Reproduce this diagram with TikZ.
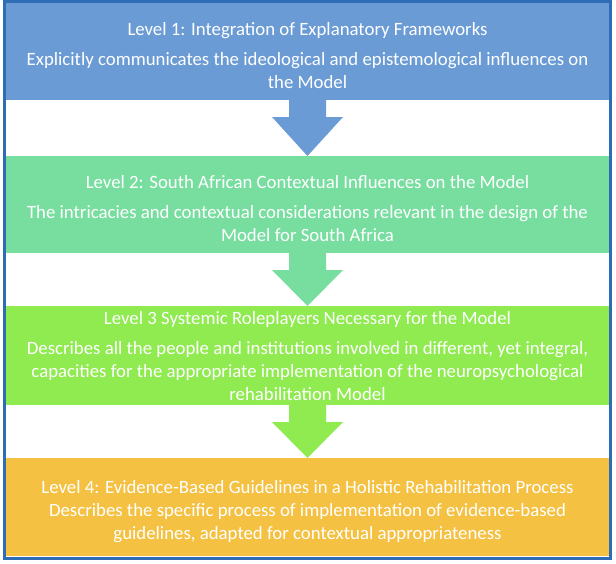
\documentclass[tikz,border=0pt]{standalone}
\usepackage{fontspec}
\setmainfont{Carlito}
\usepackage{tikz}
\usetikzlibrary{positioning, calc}
\definecolor{levelblue}{RGB}{106,155,213}
\definecolor{levelmint}{RGB}{119,222,160}
\definecolor{levellime}{RGB}{143,235,80}
\definecolor{levelgold}{RGB}{244,193,66}
\definecolor{frameblue}{RGB}{46,108,182}

% block arrow from one level box down to the next
\newcommand{\levelarrow}[3]{%
  \fill[#3] ($(#1.south)+(-18.5,0)$) -- ++(0,17) -- ++(-17,0) -- (#2.north)
    -- ($(#1.south)+(35.5,17)$) -- ++(-17,0) -- ($(#1.south)+(18.5,0)$) -- cycle;}

\begin{document}
\begin{tikzpicture}[
    x=1pt, y=-1pt,
    node distance=54pt,
    every node/.style={font=\fontsize{18.8}{23}\selectfont, text=white},
    level/.style={rectangle, minimum width=603pt, text width=578pt, minimum height=97pt, align=flush center, inner sep=0pt, outer sep=0pt,
      execute at begin node={\rule{0pt}{#1}}},
    level/.default=22pt
]
\useasboundingbox (0,0) rectangle (616,563);

\node[level, fill=levelblue, anchor=north] (l1) at (307.5,3) {Level 1: Integration of Explanatory Frameworks\\[7pt]
  Explicitly communicates the ideological and epistemological influences on the Model};
\node[level, fill=levelmint, below=56pt of l1] (l2) {Level 2: South African Contextual Influences on the Model\\[7pt]
  The intricacies and contextual considerations relevant in the design of the Model for South Africa};
\node[level=14pt, fill=levellime, below=53pt of l2, minimum height=99pt] (l3) {Level 3 Systemic Roleplayers Necessary for the Model\\[7pt]
  Describes all the people and institutions involved in different, yet integral, capacities for the appropriate implementation of the neuropsychological rehabilitation Model};
\node[level, fill=levelgold, below=53pt of l3, minimum height=98pt] (l4) {Level 4: Evidence-Based Guidelines in a Holistic Rehabilitation Process\\
  Describes the specific process of implementation of evidence-based guidelines, adapted for contextual appropriateness};

\levelarrow{l1}{l2}{levelblue}
\levelarrow{l2}{l3}{levelmint}
\levelarrow{l3}{l4}{levellime}

\draw[frameblue, line width=3pt] (4.5,1.5) rectangle (610.5,558.5);

\end{tikzpicture}
\end{document}
